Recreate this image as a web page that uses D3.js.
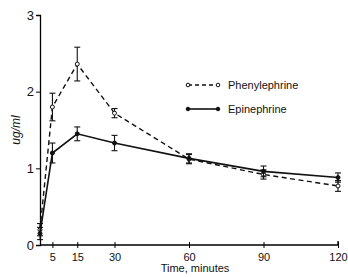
<!DOCTYPE html>
<html>
<head>
<meta charset="utf-8">
<script src="https://cdn.jsdelivr.net/npm/d3@7"></script>
<style>
  body { margin: 0; background: white; }
  text { font-family: "Liberation Sans", sans-serif; fill: #111; }
</style>
</head>
<body>
<div id="chart"></div>
<script>
// data
const times = [0, 5, 15, 30, 60, 90, 120];
const phenylephrine = [0.2, 1.8, 2.36, 1.72, 1.12, 0.92, 0.77];
const phenylephrineErr = [0.08, 0.18, 0.22, 0.06, 0.06, 0.06, 0.07];
const epinephrine = [0.15, 1.2, 1.45, 1.33, 1.13, 0.96, 0.88];
const epinephrineErr = [0.08, 0.13, 0.09, 0.1, 0.06, 0.07, 0.06];
const xTicks = [5, 15, 30, 60, 90, 120];
const yTicks = [0, 1, 2, 3];

const width = 348, height = 277;
const svg = d3.select("#chart").append("svg")
    .attr("width", width).attr("height", height);

const x = d3.scaleLinear().domain([0, 120]).range([40, 338]);
const y = d3.scaleLinear().domain([0, 3]).range([245, 15]);

// axes
const yAxis = d3.axisLeft(y).tickValues(yTicks).tickSize(4).tickFormat(d3.format("d"));
svg.append("g").attr("transform", `translate(${x(0)},0)`).call(yAxis)
    .call(g => g.selectAll("text").style("font-size", "13px").attr("x", -6))
    .call(g => g.select(".domain").attr("stroke-width", 1.3));

const xAxis = d3.axisBottom(x).tickValues(xTicks).tickSize(3).tickFormat(d3.format("d"));
svg.append("g").attr("transform", `translate(0,${y(0)})`).call(xAxis)
    .call(g => g.selectAll("text").style("font-size", "11px").attr("dy", "0.9em"))
    .call(g => g.selectAll(".tick line").attr("y1", -3))
    .call(g => g.select(".domain").attr("stroke-width", 1.3).attr("d", `M${x(0)},0H${x(120)}V-4`));

// labels
svg.append("text").attr("x", 195).attr("y", 272).attr("text-anchor", "middle")
    .style("font-size", "11px").text("Time, minutes");
svg.append("text").attr("transform", `translate(20,130) rotate(-90)`)
    .attr("text-anchor", "middle").style("font-size", "12px").style("font-style", "italic")
    .text("ug/ml");

function drawSeries(vals, errs, dashed, open) {
  const pts = times.map((t, i) => ({ t, v: vals[i], e: errs[i] }));
  const line = d3.line().x(d => x(d.t)).y(d => y(d.v));
  svg.append("path").datum(pts).attr("d", line)
      .attr("fill", "none").attr("stroke", "#111")
      .attr("stroke-width", dashed ? 1.4 : 1.6)
      .attr("stroke-dasharray", dashed ? "5,3.5" : null);
  const g = svg.append("g").attr("stroke", "#111").attr("stroke-width", 1.1);
  pts.forEach(d => {
    g.append("line").attr("x1", x(d.t)).attr("x2", x(d.t))
        .attr("y1", y(d.v - d.e)).attr("y2", y(d.v + d.e));
    [d.v - d.e, d.v + d.e].forEach(v => {
      g.append("line").attr("x1", x(d.t) - 3).attr("x2", x(d.t) + 3)
          .attr("y1", y(v)).attr("y2", y(v));
    });
  });
  svg.append("g").selectAll("circle").data(pts).join("circle")
      .attr("cx", d => x(d.t)).attr("cy", d => y(d.v)).attr("r", 2)
      .attr("fill", open ? "white" : "#111").attr("stroke", "#111").attr("stroke-width", 1);
}

drawSeries(phenylephrine, phenylephrineErr, true, true);
drawSeries(epinephrine, epinephrineErr, false, false);

// legend
const legend = [
  { name: "Phenylephrine", dashed: true, open: true, y: 85 },
  { name: "Epinephrine", dashed: false, open: false, y: 109 }
];
legend.forEach(l => {
  svg.append("line").attr("x1", 188).attr("x2", 218).attr("y1", l.y).attr("y2", l.y)
      .attr("stroke", "#111").attr("stroke-width", l.dashed ? 1.4 : 1.6)
      .attr("stroke-dasharray", l.dashed ? "4,3" : null);
  [188, 218].forEach(cx => svg.append("circle").attr("cx", cx).attr("cy", l.y).attr("r", 1.8)
      .attr("fill", l.open ? "white" : "#111").attr("stroke", "#111"));
  svg.append("text").attr("x", 228).attr("y", l.y + 4).style("font-size", "11px").text(l.name);
});
</script>
</body>
</html>
